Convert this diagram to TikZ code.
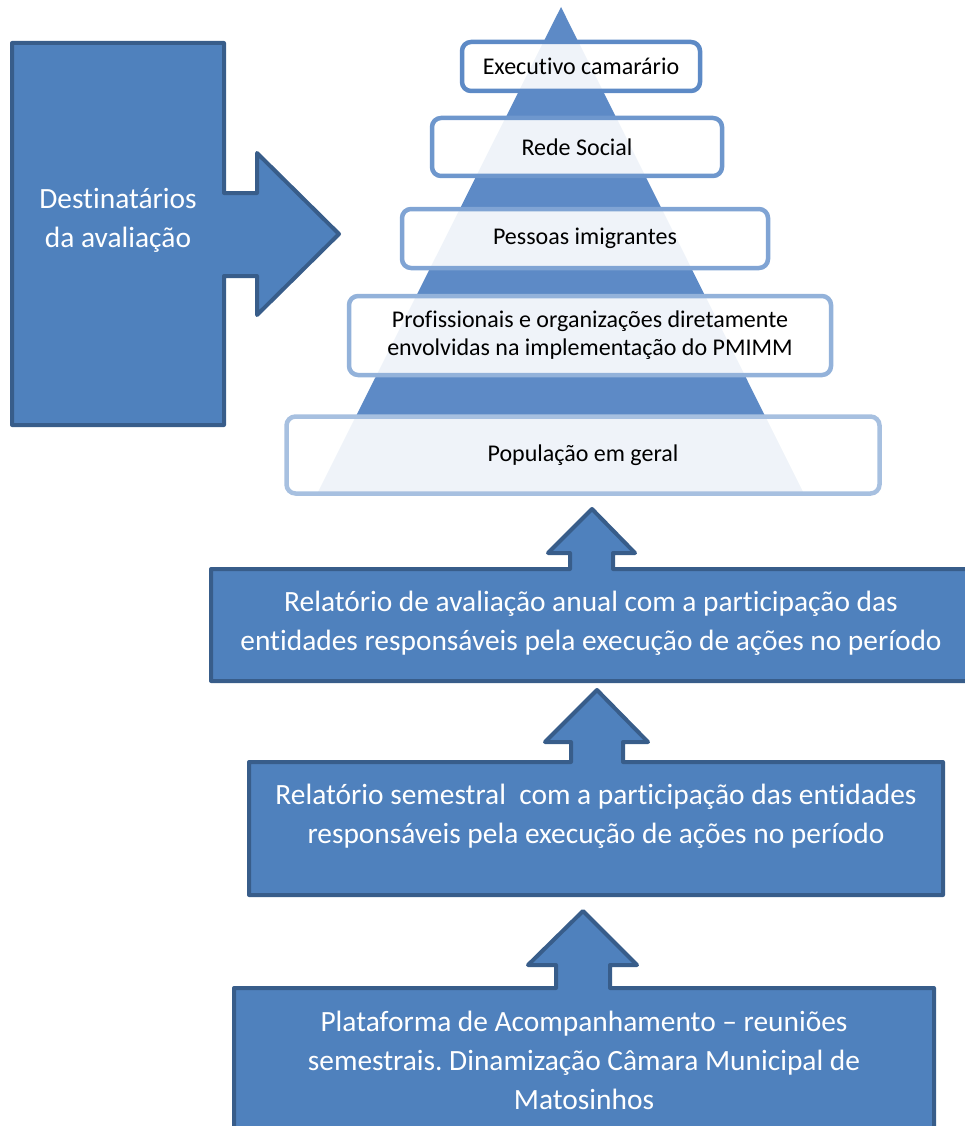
\documentclass[tikz,border=0pt]{standalone}
\usepackage{fontspec}
\setmainfont[Ligatures=NoCommon]{Carlito}
\usepackage{xcolor}
\usepackage{tikz}
\usetikzlibrary{positioning}
\definecolor{evalblue}{HTML}{4F81BD}
\definecolor{evaledge}{HTML}{385D8A}
\definecolor{pyrblue}{HTML}{5D8AC6}
\definecolor{tierone}{HTML}{5D8AC6}
\definecolor{tiertwo}{HTML}{6E97CD}
\definecolor{tierthree}{HTML}{80A4D4}
\definecolor{tierfour}{HTML}{93B2DA}
\definecolor{tierfive}{HTML}{A7C0E0}
\frenchspacing

\begin{document}
\begin{tikzpicture}[x=1pt, y=-1pt,
    blockshape/.style={fill=evalblue, draw=evaledge, line width=4pt, line join=round},
    blocktext/.style={text=white, align=center, font=\fontsize{29.4}{39}\selectfont},
    tierbox/.style={rounded corners=9pt, fill=white, fill opacity=0.9, text opacity=1,
      line width=4.5pt, align=center, font=\fontsize{24}{28}\selectfont, inner sep=0pt}]
      \useasboundingbox (0,0) rectangle (965,1126);

      % destinatarios
      \draw[blockshape] (12,425) -- (12,43) -- (224,43) -- (224,193) -- (257,193) -- (257,153)
        -- (339,234) -- (257,315) -- (257,276) -- (224,276) -- (224,425) -- cycle;
      \node[blocktext] (dest) at (118,220) {Destinatários\\da avaliação};

      % piramide
      \fill[pyrblue] (561,7) -- (803,492) -- (318,492) -- cycle;
      \node[tierbox, draw=tierone, minimum width=238pt, minimum height=49pt] (exec) at (581,66.5)
        {Executivo camarário};
      \node[tierbox, draw=tiertwo, minimum width=290pt, minimum height=58pt] (rede) at (577,147)
        {Rede Social};
      \node[tierbox, draw=tierthree, minimum width=366pt, minimum height=59pt] (pessoas) at (585,238.5)
        {Pessoas imigrantes};
      \node[tierbox, draw=tierfour, minimum width=482pt, minimum height=79pt] (prof) at (590,335.5)
        {Profissionais e organizações diretamente\\envolvidas na implementação do PMIMM};
      \node[tierbox, draw=tierfive, minimum width=593pt, minimum height=77pt] (pop) at (583,455)
        {População em geral};

      % relatorios
      \draw[blockshape] (211,681) -- (211,569) -- (570,569) -- (570,553) -- (548,553) -- (592,509)
        -- (635,553) -- (613,553) -- (613,569) -- (971,569) -- (971,681) -- cycle;
      \node[blocktext] (anual) at (591,623)
        {Relatório de avaliação anual com a participação das\\entidades responsáveis pela execução de ações no período};
      \draw[blockshape] (249,895) -- (249,762) -- (571,762) -- (571,742) -- (545,742) -- (597,690)
        -- (648,742) -- (623,742) -- (623,762) -- (943,762) -- (943,895) -- cycle;
      \node[blocktext] (semestral) at (596,816)
        {Relatório semestral\ \ com a participação das entidades\\responsáveis pela execução de ações no período};
      \draw[blockshape] (234,1140) -- (234,988) -- (556,988) -- (556,965) -- (528,965) -- (583,911)
        -- (637,965) -- (610,965) -- (610,988) -- (934,988) -- (934,1140) -- cycle;
      \node[blocktext] (plataforma) at (584,1060)
        {Plataforma de Acompanhamento – reuniões\\semestrais. Dinamização Câmara Municipal de\\Matosinhos};
    \end{tikzpicture}
\end{document}
